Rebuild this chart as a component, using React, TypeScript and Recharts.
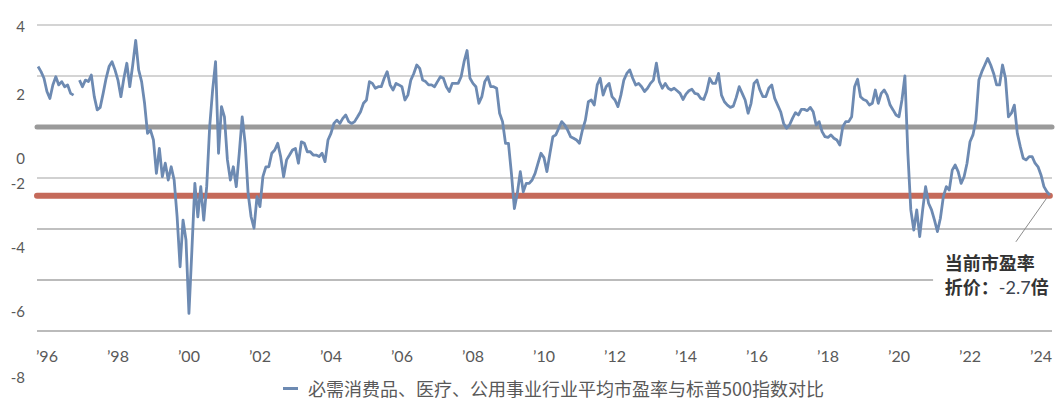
import { LineChart, Line, XAxis, YAxis, ReferenceLine, ReferenceDot } from "recharts";

// monthly relative P/E spread, first point = Oct 1995
const START_YEAR = 1995.75;
const relPE: (number | null)[] = [
  2.37, 2.17, 1.91, 1.39, 1.12, 1.65, 1.97, 1.65, 1.78, 1.58, 1.65, 1.32,
  1.25, null, 1.84, 1.58, 1.84, 1.78, 2.04, 1.19, 0.67, 0.77, 1.32, 1.91,
  2.37, 2.56, 2.24, 1.84, 1.19, 1.91, 2.5, 1.58, 2.43, 3.4, 2.24, 1.78,
  0.93, -0.25, -0.12, -0.51, -1.82, -0.84, -1.95, -1.42, -2.08, -1.56, -2.08, -3.52,
  -5.48, -3.65, -4.43, -7.31, -4.82, -2.21, -3.52, -2.34, -3.65, -2.34, 0.0, 1.45,
  2.56, -1.03, 0.8, 0.4, -1.29, -2.08, -1.56, -2.34, -1.03, 0.4, -0.64, -2.6,
  -3.52, -3.97, -2.73, -3.12, -1.95, -1.56, -1.56, -1.03, -0.9, -0.64, -1.16, -1.95,
  -1.29, -1.1, -0.9, -0.84, -1.42, -0.58, -0.64, -0.97, -0.97, -1.1, -1.1, -1.16,
  -1.03, -1.36, -0.51, -0.25, 0.14, 0.27, 0.14, 0.34, 0.47, 0.21, 0.14, 0.21,
  0.4, 0.6, 0.93, 1.06, 1.78, 1.71, 1.52, 1.58, 1.58, 1.91, 2.17, 1.65,
  1.45, 1.71, 1.65, 1.58, 1.06, 1.25, 1.84, 2.1, 2.43, 2.3, 1.84, 1.78,
  1.65, 1.65, 1.58, 1.78, 1.97, 1.91, 1.58, 1.39, 1.71, 1.71, 1.71, 1.97,
  2.56, 3.0, 1.91, 1.71, 1.58, 0.93, 1.19, 1.78, 1.97, 1.58, 1.58, 1.52,
  0.54, 0.21, -0.64, -0.64, -1.82, -3.2, -2.6, -1.75, -2.54, -2.21, -2.21, -2.08,
  -1.82, -1.42, -1.03, -1.2, -1.75, -1.05, -0.38, -0.31, -0.05, 0.21, 0.08, -0.12,
  -0.38, -0.44, -0.51, -0.64, -0.12, 0.27, 0.99, 1.06, 0.86, 1.65, 1.91, 1.25,
  1.58, 1.71, 1.19, 1.06, 0.8, 1.25, 1.84, 2.1, 2.24, 1.91, 1.65, 1.71,
  1.58, 1.39, 1.52, 1.71, 1.84, 2.5, 1.78, 1.52, 1.71, 1.52, 1.45, 1.52,
  1.42, 1.32, 1.08, 1.29, 1.42, 1.48, 1.32, 1.29, 1.12, 1.08, 1.39, 1.91,
  1.71, 1.71, 2.1, 1.25, 0.99, 0.86, 0.77, 0.82, 1.16, 1.58, 1.32, 1.06,
  0.54, 0.93, 1.71, 1.84, 1.45, 1.19, 1.19, 1.52, 1.65, 1.12, 0.86, 0.6,
  0.14, -0.05, 0.08, 0.34, 0.56, 0.47, 0.69, 0.69, 0.64, 0.77, 0.6, 0.08,
  0.21, -0.18, -0.38, -0.41, -0.31, -0.44, -0.51, -0.71, 0.01, 0.21, 0.21, 0.4,
  1.58, 1.87, 1.19, 1.08, 1.03, 0.86, 0.93, 1.45, 0.93, 1.32, 1.45, 1.25,
  0.86, 0.67, 0.47, 0.4, 1.06, 2.0, -1.03, -3.25, -4.04, -3.25, -4.3, -3.25,
  -2.34, -2.99, -3.25, -3.65, -4.1, -3.58, -2.73, -2.34, -2.47, -1.69, -1.49, -1.75,
  -2.21, -1.95, -1.42, -0.58, -0.31, 0.27, 1.84, 2.17, 2.43, 2.69, 2.43, 2.1,
  1.65, 1.65, 2.43, 1.91, 0.4, 0.54, 0.86, -0.25, -0.77, -1.23, -1.29, -1.16,
  -1.16, -1.42, -1.56, -1.88, -2.34, -2.54, -2.67,
];

const yearTicks = [1996, 1998, 2000, 2002, 2004, 2006, 2008, 2010, 2012, 2014, 2016, 2018, 2020, 2022, 2024];
const valueTicks = [4, 2, 0, -2, -4, -6, -8];
const gridValues = [4, 2, -2, -4, -6, -8];
const AVG_LEVEL = 0;
const CURRENT_LEVEL = -2.7;
const LEGEND_LABEL = "必需消费品、医疗、公用事业行业平均市盈率与标普500指数对比";
const NOTE_TITLE = "当前市盈率";
const NOTE_PREFIX = "折价：";
const NOTE_VALUE = "-2.7";
const NOTE_UNIT = "倍";

const X_DOMAIN: [number, number] = [1995.72, 2024.31];
const lastT = START_YEAR + (relPE.length - 1) / 12;

// the source puts its y labels a bit off the gridlines; keep that look
const yLabelShift: Record<number, number> = { 4: 0.5, 2: 17.5, 0: 30.5, "-2": 4.5, "-4": 17.5, "-6": 30.5, "-8": 45.5 };
const gridColor: Record<number, string> = { 4: "#c6c6c6", 2: "#c6c6c6", "-2": "#c2c2c2", "-4": "#ababab", "-6": "#a4a4a4", "-8": "#a4a4a4" };

const LINE_COLOR = "#6d8ab2";
const TICK_FONT = "Lato, 'Liberation Sans', sans-serif";
const CJK_FONT = "'Noto Sans CJK SC', 'Noto Sans', sans-serif";

const data = relPE.map((v, i) => ({ t: START_YEAR + i / 12, v }));

function YTick(props: any) {
  const { x, y, payload } = props;
  return (
    <text
      x={x - 12}
      y={y + (yLabelShift[payload.value] ?? 0)}
      textAnchor="end"
      dominantBaseline="central"
      fontFamily={TICK_FONT}
      fontSize={15}
      fill="#595959"
    >
      {payload.value}
    </text>
  );
}

function XTick(props: any) {
  const { x, y, payload } = props;
  const label = "\u2019" + String(payload.value).slice(2);
  return (
    <text x={x} y={y + 24.5} textAnchor="middle" dominantBaseline="central" fontFamily={TICK_FONT} fontSize={16} fill="#595959">
      {label}
    </text>
  );
}

function NoteShape(props: any) {
  const { cx, cy } = props;
  return (
    <g>
      <line x1={cx - 3} y1={cy + 2} x2={cx - 34} y2={cy + 46} stroke="#8c8c8c" strokeWidth={1} />
      <text x={cx - 105} y={cy + 74} fontFamily={CJK_FONT} fontSize={18} fontWeight={700} fill="#333">
        {NOTE_TITLE}
      </text>
      <text x={cx - 105} y={cy + 98} fontFamily={CJK_FONT} fontSize={18} fontWeight={700} fill="#333">
        {NOTE_PREFIX}
        <tspan fontFamily={TICK_FONT} fontWeight={400} fill="#3d4450">{NOTE_VALUE}</tspan>
        {NOTE_UNIT}
      </text>
    </g>
  );
}

export default function App() {
  return (
    <div style={{ position: "absolute", left: 0, top: 0, width: 1064, height: 407, background: "#fff" }}>
      <LineChart width={1064} height={407} data={data} margin={{ top: 25, right: 12, bottom: 46, left: 0 }}>
        <XAxis
          dataKey="t"
          type="number"
          domain={X_DOMAIN}
          ticks={yearTicks}
          axisLine={false}
          tickLine={false}
          tickSize={0}
          tickMargin={0}
          height={30}
          tick={<XTick />}
          interval={0}
        />
        <YAxis
          type="number"
          domain={[-8, 4]}
          ticks={valueTicks}
          axisLine={false}
          tickLine={false}
          tickSize={0}
          tickMargin={0}
          width={37}
          tick={<YTick />}
          interval={0}
        />
        {gridValues.map((g) =>
          g === -6 ? (
            <ReferenceLine
              key={g}
              segment={[{ x: X_DOMAIN[0], y: g }, { x: 2020.96, y: g }]}
              stroke={gridColor[g]}
              strokeWidth={1.5}
            />
          ) : (
            <ReferenceLine key={g} y={g} stroke={gridColor[g]} strokeWidth={1.5} />
          )
        )}
        <ReferenceLine y={AVG_LEVEL} stroke="#9a9a9a" strokeWidth={5} strokeLinecap="round" />
        <ReferenceLine
          segment={[{ x: X_DOMAIN[0], y: CURRENT_LEVEL }, { x: lastT, y: CURRENT_LEVEL }]}
          stroke="#c56a5a"
          strokeWidth={6}
          strokeLinecap="round"
        />
        <Line
          type="linear"
          dataKey="v"
          stroke={LINE_COLOR}
          strokeWidth={2.8}
          strokeLinejoin="round"
          dot={false}
          activeDot={false}
          connectNulls={false}
          isAnimationActive={false}
        />
        <ReferenceDot x={lastT} y={CURRENT_LEVEL} r={0} shape={<NoteShape />} />
      </LineChart>
      <div
        style={{
          position: "absolute",
          left: 283,
          top: 376,
          height: 24,
          display: "flex",
          alignItems: "center",
          fontFamily: CJK_FONT,
          fontSize: 18,
          color: "#595959",
          whiteSpace: "nowrap",
        }}
      >
        <span style={{ display: "inline-block", width: 15, height: 3, background: LINE_COLOR, marginRight: 10 }} />
        {LEGEND_LABEL}
      </div>
    </div>
  );
}
